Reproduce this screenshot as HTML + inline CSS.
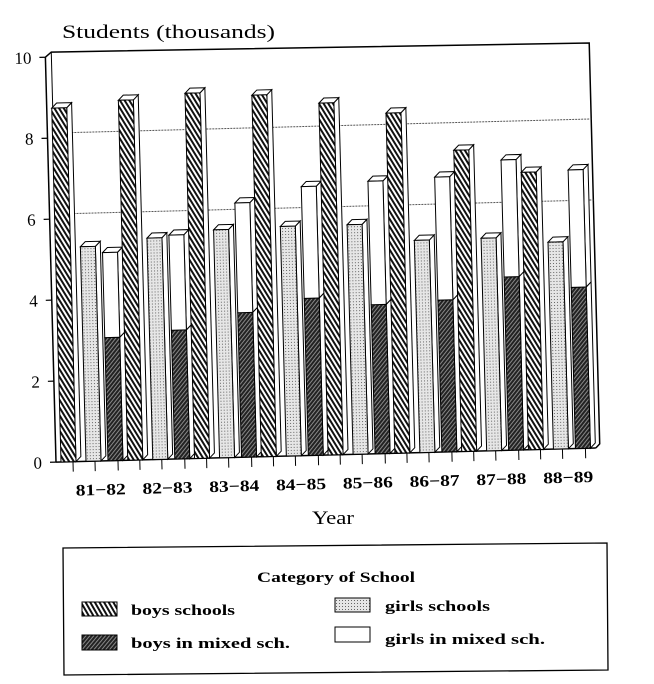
<!DOCTYPE html>
<html><head><style>
html,body{margin:0;padding:0;background:#fff;}
svg{display:block;font-family:"Liberation Serif",serif;}
</style></head><body>
<svg width="654" height="684" viewBox="0 0 654 684" xmlns="http://www.w3.org/2000/svg">
<defs>
<pattern id="hb" width="4" height="4" patternUnits="userSpaceOnUse" patternTransform="rotate(-30)">
<rect width="4" height="4" fill="#fff"/><rect width="2" height="4" fill="#111"/></pattern>
<pattern id="dt" width="3" height="3" patternUnits="userSpaceOnUse">
<rect width="3" height="3" fill="#e6e6e6"/><rect width="1" height="1" fill="#666"/></pattern>
<pattern id="dk" width="3" height="3" patternUnits="userSpaceOnUse" patternTransform="rotate(40)">
<rect width="3" height="3" fill="#222"/><rect width="1" height="3" fill="#888"/></pattern>
</defs>
<text x="62" y="38" font-size="19" textLength="213" lengthAdjust="spacingAndGlyphs">Students (thousands)</text>
<g transform="rotate(-1.5 60 462)">
<line x1="56" y1="57" x2="56" y2="462" stroke="#000" stroke-width="1.5"/>
<g font-size="17" text-anchor="end">
<text x="42" y="63">10</text><text x="42" y="144">8</text><text x="42" y="225">6</text>
<text x="42" y="306">4</text><text x="42" y="387">2</text><text x="42" y="468">0</text>
</g>
<g stroke="#000" stroke-width="1.2">
<line x1="50" y1="57" x2="56" y2="57"/><line x1="50" y1="138" x2="56" y2="138"/>
<line x1="50" y1="219" x2="56" y2="219"/><line x1="50" y1="300" x2="56" y2="300"/>
<line x1="50" y1="381" x2="56" y2="381"/><line x1="50" y1="462" x2="56" y2="462"/>
</g>
<polyline points="56,57 62,52 600,57 600,458 596,462" fill="none" stroke="#000" stroke-width="1.5"/>
<line x1="62" y1="52" x2="62" y2="458" stroke="#000" stroke-width="1"/>
<line x1="62" y1="133" x2="600" y2="133" stroke="#555" stroke-width="1" stroke-dasharray="2,1"/>
<line x1="62" y1="214" x2="600" y2="214" stroke="#555" stroke-width="1" stroke-dasharray="2,1"/>
<line x1="56" y1="462" x2="596" y2="462" stroke="#000" stroke-width="1.5"/>
<g id="bars" stroke="#000" stroke-width="1"></g>
<g font-size="16" font-weight="bold" text-anchor="middle" id="xl"></g>
</g>
<text x="333" y="524" font-size="19" text-anchor="middle" textLength="42" lengthAdjust="spacingAndGlyphs">Year</text>
<polygon points="63,548 607,543 608,670 64,675" fill="none" stroke="#000" stroke-width="1.3"/>
<text x="336" y="582" font-size="15" font-weight="bold" text-anchor="middle" textLength="158" lengthAdjust="spacingAndGlyphs">Category of School</text>
<rect x="82" y="602" width="35" height="14" fill="url(#hb)" stroke="#000"/>
<text x="131" y="615" font-size="15" font-weight="bold" textLength="104" lengthAdjust="spacingAndGlyphs">boys schools</text>
<rect x="82" y="635" width="35" height="15" fill="url(#dk)" stroke="#000"/>
<text x="131" y="648" font-size="15" font-weight="bold" textLength="159" lengthAdjust="spacingAndGlyphs">boys in mixed sch.</text>
<rect x="335" y="598" width="35" height="14" fill="url(#dt)" stroke="#000"/>
<text x="385" y="611" font-size="15" font-weight="bold" textLength="105" lengthAdjust="spacingAndGlyphs">girls schools</text>
<rect x="335" y="627" width="35" height="15" fill="#fff" stroke="#000"/>
<text x="385" y="644" font-size="15" font-weight="bold" textLength="160" lengthAdjust="spacingAndGlyphs">girls in mixed sch.</text>
</svg>
<script>
var ns="http://www.w3.org/2000/svg";
var g=document.getElementById("bars"),xl=document.getElementById("xl");
var boys=[8.74,8.89,9.02,8.93,8.69,8.4,7.44,6.85],girls=[5.3,5.47,5.63,5.67,5.67,5.24,5.25,5.11];
var mixT=[5.14,5.53,6.28,6.64,6.73,6.79,7.17,6.88],mixB=[3.04,3.18,3.57,3.88,3.68,3.75,4.28,3.98];
var labs=["81-82","82-83","83-84","84-85","85-86","86-87","87-88","88-89"];
function Y(v){return 462-40.5*v;}
function el(t,a,p){var e=document.createElementNS(ns,t);for(var k in a)e.setAttribute(k,a[k]);(p||g).appendChild(e);return e;}
function bar(x,v0,v1,fill,top){var w=15,d=5,y0=Y(v0),y1=Y(v1);
 el("polygon",{points:(x+w)+","+y0+" "+(x+w+d)+","+(y0-d)+" "+(x+w+d)+","+(y1-d)+" "+(x+w)+","+y1,fill:"#fff"});
 if(top)el("polygon",{points:x+","+y1+" "+(x+d)+","+(y1-d)+" "+(x+w+d)+","+(y1-d)+" "+(x+w)+","+y1,fill:"#fff"});
 el("rect",{x:x,y:y1,width:w,height:y0-y1,fill:fill});}
for(var i=0;i<8;i++){var x0=61+66.8*i;
 bar(x0,0,boys[i],"url(#hb)",1);
 bar(x0+25,0,girls[i],"url(#dt)",1);
 bar(x0+47,0,mixB[i],"url(#dk)",0);
 bar(x0+47,mixB[i],mixT[i],"#fff",1);
 for(var j=0;j<3;j++){var tx=x0+[12,34,57][j];el("line",{x1:tx,y1:462,x2:tx,y2:472});}
 var t=el("text",{x:x0+39,y:496,textLength:50,lengthAdjust:"spacingAndGlyphs"},xl);t.textContent=labs[i].replace("-","\u2212");}
</script>
</body></html>
